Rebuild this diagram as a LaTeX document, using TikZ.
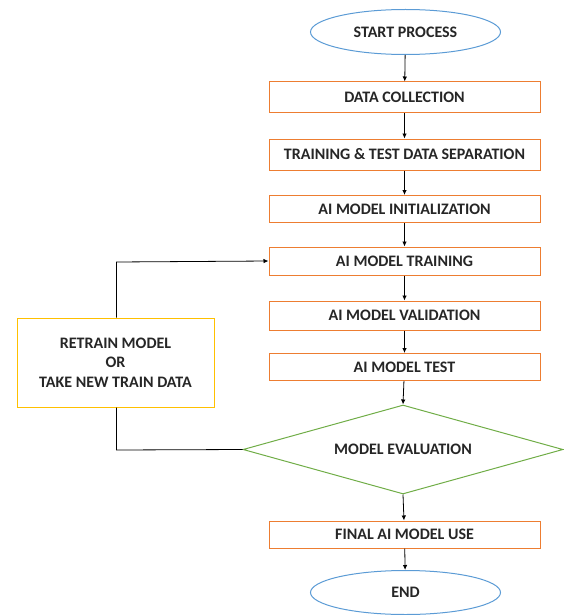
\documentclass[tikz,border=0pt]{standalone}
\usepackage{fontspec}
\setmainfont{Carlito}
\usetikzlibrary{shapes.geometric,arrows.meta}
\definecolor{boxorange}{HTML}{ED7D31}
\definecolor{termblue}{HTML}{5B9BD5}
\definecolor{decgreen}{HTML}{70AD47}
\definecolor{noteyellow}{HTML}{FFC000}
\begin{document}
\begin{tikzpicture}[x=1pt,y=-1pt,
  every node/.style={font=\fontsize{16}{19}\selectfont\bfseries, text=black!85},
  stepbox/.style={draw=boxorange, line width=1pt, minimum width=271pt, minimum height=28pt, inner sep=0pt},
  terminal/.style={draw=termblue, ellipse, line width=1pt, minimum width=190pt, minimum height=45pt, inner sep=0pt},
  flow/.style={draw=black, line width=0.8pt, -{Latex[length=5pt,width=4.5pt]}}
]
\useasboundingbox (0,0) rectangle (563,615);
\node[terminal] (start) at (405.5,32) {START PROCESS};
\node[stepbox, minimum height=31pt] (collect) at (404.5,97.5) {DATA COLLECTION};
\node[stepbox, minimum height=31pt] (split) at (404.5,154.5) {TRAINING \& TEST DATA SEPARATION};
\node[stepbox, minimum height=27pt] (init) at (404.5,209) {AI MODEL INITIALIZATION};
\node[stepbox] (train) at (404.5,261) {AI MODEL TRAINING};
\node[stepbox, minimum height=29pt] (valid) at (404.5,315.5) {AI MODEL VALIDATION};
\node[stepbox, minimum height=27pt] (test) at (404.5,367) {AI MODEL TEST};
\node[draw=decgreen, diamond, line width=1pt, minimum width=320pt, minimum height=89pt, inner sep=0pt, aspect=3.6] (eval) at (403,449.5) {};
\node at (403,449.5) {MODEL EVALUATION};
\node[stepbox, minimum height=27pt] (final) at (404.5,534.5) {FINAL AI MODEL USE};
\node[terminal, minimum height=44pt] (finish) at (405.5,592.5) {END};
\node[draw=noteyellow, line width=1pt, minimum width=197pt, minimum height=89pt, inner sep=0pt, align=center,
  font=\fontsize{16}{19.5}\selectfont\bfseries] (retrain) at (115.5,362.5) {RETRAIN MODEL\\OR\\TAKE NEW TRAIN DATA};

\draw[flow] (start) -- (collect);
\draw[flow] (collect) -- (split);
\draw[flow] (split) -- (init);
\draw[flow] (init) -- (train);
\draw[flow] (train) -- (valid);
\draw[flow] (valid) -- (test);
\draw[flow] (test) -- (eval.north);
\draw[flow] (eval.south) -- (final);
\draw[flow] (final) -- (finish);
\coordinate (up) at (116.5,262);
\coordinate (down) at (116.5,450);
\draw[flow] (retrain.north -| up) -- (up) -- (train.west);
\draw[line width=0.8pt] (retrain.south -| down) -- (down) -- (eval.west);
\end{tikzpicture}
\end{document}
